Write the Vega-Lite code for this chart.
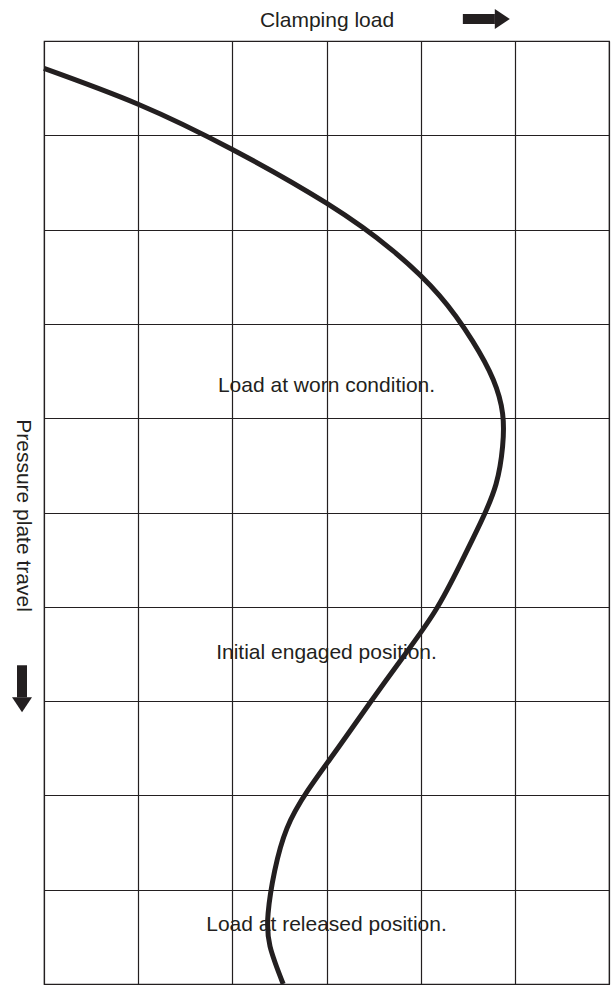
{
  "$schema": "https://vega.github.io/schema/vega-lite/v6.json",
  "width": 565,
  "height": 943,
  "autosize": {"type": "none"},
  "padding": {"left": 44, "top": 41, "right": 6, "bottom": 1},
  "background": "white",
  "config": {
    "view": {"stroke": "#231f20", "strokeWidth": 1.2},
    "font": "Liberation Sans"
  },
  "datasets": {
    "curve": [
      {"i": 0, "x": 0, "y": 0.29},
      {"i": 1, "x": 1.0, "y": 0.67},
      {"i": 2, "x": 2.0, "y": 1.15},
      {"i": 3, "x": 3.0, "y": 1.72},
      {"i": 4, "x": 3.7, "y": 2.22},
      {"i": 5, "x": 4.2, "y": 2.7},
      {"i": 6, "x": 4.55, "y": 3.18},
      {"i": 7, "x": 4.77, "y": 3.59},
      {"i": 8, "x": 4.87, "y": 3.95},
      {"i": 9, "x": 4.87, "y": 4.3},
      {"i": 10, "x": 4.8, "y": 4.7},
      {"i": 11, "x": 4.64, "y": 5.1},
      {"i": 12, "x": 4.42, "y": 5.55},
      {"i": 13, "x": 4.15, "y": 6.05},
      {"i": 14, "x": 3.8, "y": 6.55},
      {"i": 15, "x": 3.46, "y": 7.02},
      {"i": 16, "x": 3.12, "y": 7.5},
      {"i": 17, "x": 2.8, "y": 7.95},
      {"i": 18, "x": 2.58, "y": 8.35},
      {"i": 19, "x": 2.45, "y": 8.8},
      {"i": 20, "x": 2.38, "y": 9.25},
      {"i": 21, "x": 2.4, "y": 9.6},
      {"i": 22, "x": 2.54, "y": 10.0}
    ],
    "labels": [
      {"x": 3.0, "y": 3.72, "t": "Load at worn condition."},
      {"x": 3.0, "y": 6.55, "t": "Initial engaged position."},
      {"x": 3.0, "y": 9.44, "t": "Load at released position."}
    ],
    "shafts": [
      {"x": 4.448, "x2": 4.788, "y": -0.233, "y2": -0.233},
      {"x": -0.2335, "x2": -0.2335, "y": 6.62, "y2": 6.96}
    ],
    "heads": [
      {"x": 4.867, "y": -0.233, "dir": "right"},
      {"x": -0.2335, "y": 7.04, "dir": "down"}
    ]
  },
  "layer": [
    {
      "data": {"name": "curve"},
      "mark": {"type": "line", "interpolate": "natural", "stroke": "#231f20", "strokeWidth": 5, "strokeCap": "butt"},
      "encoding": {
        "x": {
          "field": "x", "type": "quantitative",
          "scale": {"domain": [0, 6], "nice": false, "zero": false},
          "axis": {
            "orient": "top", "values": [0, 1, 2, 3, 4, 5, 6],
            "grid": true, "gridColor": "#231f20", "gridWidth": 1.2, "gridOpacity": 1,
            "labels": false, "ticks": false, "domain": false,
            "title": "Clamping load", "titleFontSize": 21, "titleFontWeight": "normal",
            "titleColor": "#231f20", "titleFont": "Liberation Sans",
            "titleBaseline": "alphabetic", "titleY": -15
          }
        },
        "y": {
          "field": "y", "type": "quantitative",
          "scale": {"domain": [0, 10], "nice": false, "zero": false, "reverse": true},
          "axis": {
            "orient": "left", "values": [0, 1, 2, 3, 4, 5, 6, 7, 8, 9, 10],
            "grid": true, "gridColor": "#231f20", "gridWidth": 1.2, "gridOpacity": 1,
            "labels": false, "ticks": false, "domain": false,
            "title": "Pressure plate travel", "titleFontSize": 21, "titleFontWeight": "normal",
            "titleColor": "#231f20", "titleFont": "Liberation Sans",
            "titleAngle": 90, "titleBaseline": "middle", "titleAlign": "center",
            "titleX": -22, "titleY": 474
          }
        },
        "order": {"field": "i", "type": "quantitative"}
      }
    },
    {
      "data": {"name": "labels"},
      "mark": {"type": "text", "fontSize": 21, "font": "Liberation Sans", "fill": "#231f20", "align": "center", "baseline": "alphabetic"},
      "encoding": {
        "x": {"field": "x", "type": "quantitative"},
        "y": {"field": "y", "type": "quantitative"},
        "text": {"field": "t"}
      }
    },
    {
      "data": {"name": "shafts"},
      "mark": {"type": "rule", "stroke": "#231f20", "strokeWidth": 10, "strokeCap": "butt"},
      "encoding": {
        "x": {"field": "x", "type": "quantitative"},
        "x2": {"field": "x2"},
        "y": {"field": "y", "type": "quantitative"},
        "y2": {"field": "y2"}
      }
    },
    {
      "data": {"name": "heads"},
      "mark": {"type": "point", "filled": true, "size": 400, "fill": "#231f20", "strokeWidth": 0, "opacity": 1},
      "encoding": {
        "x": {"field": "x", "type": "quantitative"},
        "y": {"field": "y", "type": "quantitative"},
        "shape": {
          "field": "dir", "type": "nominal",
          "scale": {"domain": ["right", "down"], "range": ["M-0.75,-1L0.75,0L-0.75,1Z", "M-1,-0.75L1,-0.75L0,0.75Z"]},
          "legend": null
        }
      }
    }
  ]
}
